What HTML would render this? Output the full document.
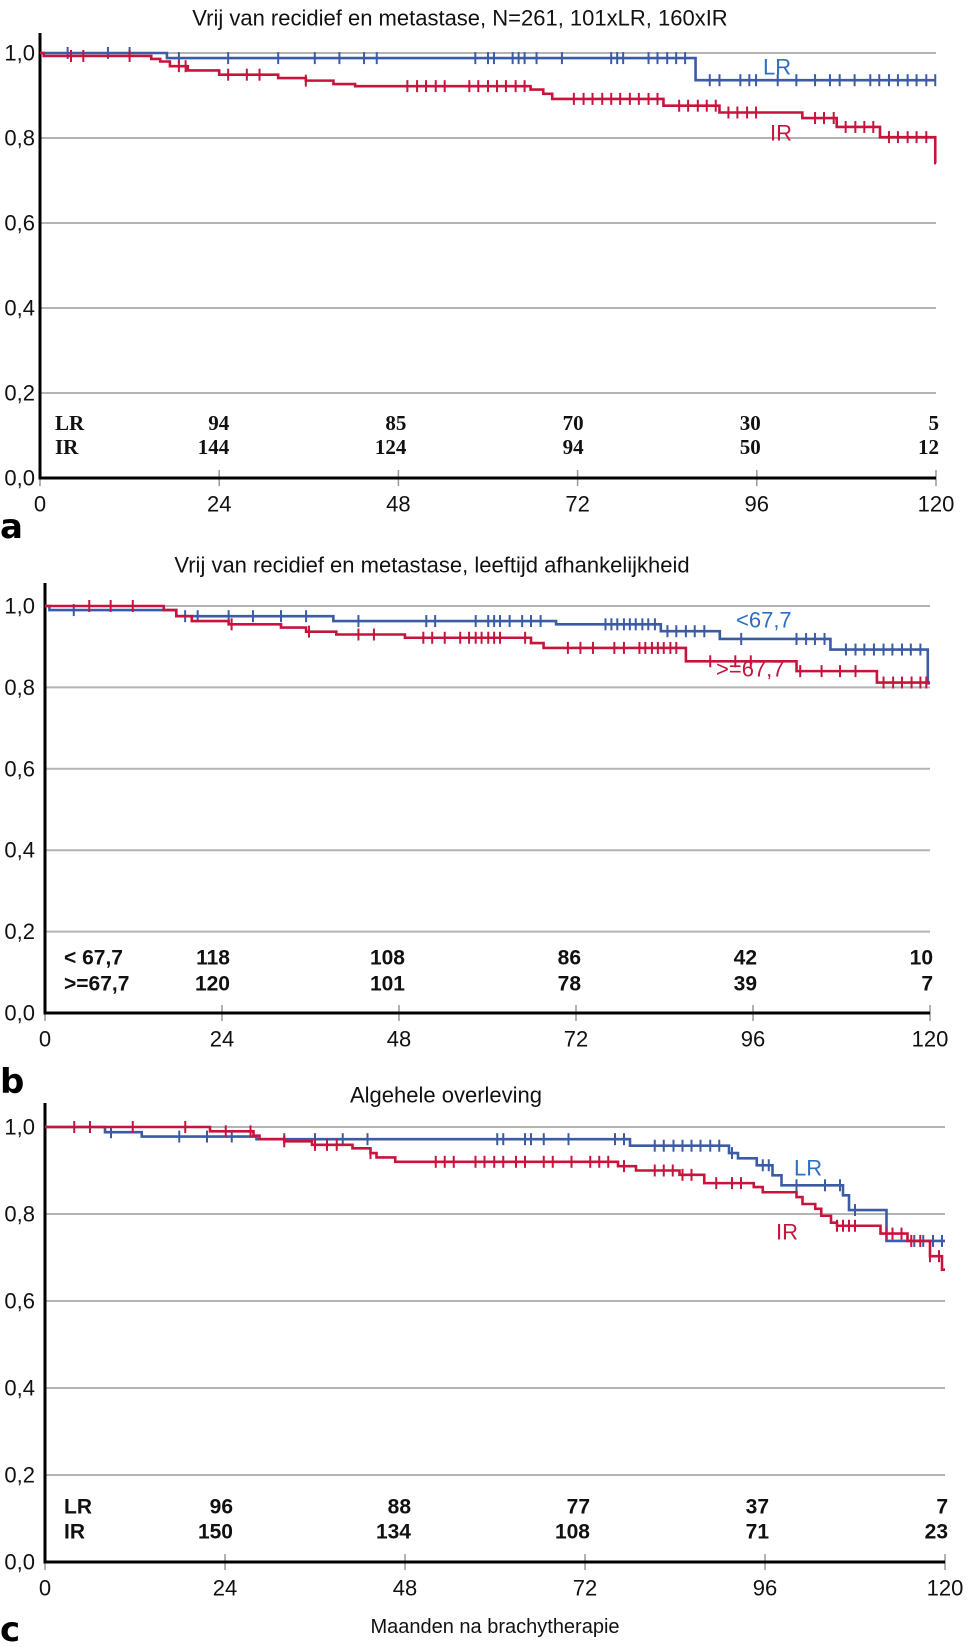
<!DOCTYPE html>
<html><head><meta charset="utf-8">
<style>
html,body{margin:0;padding:0;background:#fff;}
svg{display:block;}
</style></head>
<body>
<svg id="fig" width="969" height="1647" viewBox="0 0 969 1647" xmlns="http://www.w3.org/2000/svg" font-family="Liberation Sans, Arial, sans-serif"></svg>
<script>
// ---------- Panel a data ----------
const aTicks=[0,24,48,72,96,120];
const aYTicks=["0,0","0,2","0,4","0,6","0,8","1,0"];
const aLRT=[17,87.8];
const aLRS=[0.988,0.936];
const aLRC=[3.7,9.1,12,18.6,25.2,31.9,36.8,40.1,43.4,45.1,58.3,60,60.8,63.3,64.1,64.9,66.5,69.9,76.5,77.3,78.1,81.5,82.7,84,85.2,86.4,89.7,91,93.8,95,95.9,98.8,101.3,103.8,105.8,107.1,109.1,111.2,112.4,113.7,114.9,116.2,117.4,118.7,119.9];
const aIRT=[0.5,14.9,16.1,17.4,19.8,24,31.9,35.6,39.3,42.2,65.7,67.4,68.6,83.5,91,102.1,106.7,112.5,119.9];
const aIRS=[0.993,0.986,0.98,0.969,0.959,0.949,0.941,0.935,0.927,0.922,0.914,0.904,0.892,0.876,0.86,0.847,0.826,0.802,0.741];
const aIRC=[4.15,5.8,12,18.6,19.5,25.2,27.7,29.4,35.6,49.2,50.5,51.7,53,54.2,57.5,58.7,60,61.2,62.4,63.7,64.9,71.5,72.8,74,75.3,76.5,77.7,79,80.2,81.5,82.7,85.6,86.8,88.1,89.3,90.5,92.2,93.4,94.7,95.9,103.8,105,106.3,107.9,109.2,110.4,111.6,113.7,114.9,116.2,117.4,118.7];
const aRiskLR=[94,85,70,30,5];
const aRiskIR=[144,124,94,50,12];
// ---------- Panel b data ----------
const bYTicks=["0,0","0,2","0,4","0,6","0,8","1,0"];
const bYoungT=[0.6,17.8,39.1,69.3,83.5,91.5,106.5,119.7];
const bYoungS=[0.99,0.975,0.963,0.955,0.938,0.919,0.893,0.81];
const bYoungC=[3.9,19,20.7,24.9,28.2,32,35.4,42.5,51.7,52.9,58.4,60.1,60.9,61.7,63,64.7,65.9,67.2,76,76.8,77.6,78.5,79.3,80.1,81,81.8,82.7,84.4,85.6,86.9,88.1,89.4,94.4,101.9,103.2,104.4,105.7,108.6,109.9,111.1,112.4,113.7,114.9,116.2,117.4,118.7];
const bOldT=[16.1,17.8,19.9,24.9,32,35.4,39.5,48.8,65.9,67.6,86.9,101.9,112.8];
const bOldS=[0.99,0.975,0.963,0.955,0.947,0.937,0.93,0.922,0.909,0.897,0.864,0.84,0.812];
const bOldC=[6,8.9,11.9,25.3,35.8,42.5,44.6,51.3,52.5,54.2,56.3,57.5,58.4,59.2,60.1,60.9,61.7,65.1,70.9,72.6,74.3,77.2,78.5,80.6,81.4,82.3,83.1,83.9,84.8,85.6,90.2,93.6,95.7,102.4,105.3,107.8,109.9,113.7,115,116.2,117.5,118.7,119.5];
const bRiskYoung=[118,108,86,42,10];
const bRiskOld=[120,101,78,39,7];
// ---------- Panel c data ----------
const cLRT=[8,12.9,28.2,78,91.2,92.4,94.9,97,98.2,106.4,107.2,112.2];
const cLRS=[0.988,0.978,0.972,0.957,0.94,0.928,0.912,0.889,0.866,0.843,0.809,0.738];
const cLRC=[8.8,17.9,21.6,24.9,31.9,36,39.7,43,60.3,61.1,64,64.8,66.5,69.8,76,77.2,81.3,82.5,83.8,85,86.2,87.4,88.7,89.9,91.6,95.7,96.5,100.2,104,106,108,115.9,117.1,118.4,119.6];
const cIRT=[22,27.8,28.6,31.9,35.6,41,43.4,44.2,46.7,76.4,78.8,84.6,87.9,94.5,95.7,100.2,101,102.7,103.5,104.8,105.6,111.4,115,118,119.6];
const cIRS=[0.99,0.98,0.972,0.967,0.959,0.951,0.94,0.93,0.92,0.91,0.9,0.89,0.871,0.862,0.85,0.839,0.823,0.812,0.796,0.78,0.773,0.755,0.738,0.703,0.672];
const cIRC=[3.9,6,11.7,18.7,24.1,27.4,31.9,36,37.6,38.9,43.4,52.1,53.3,54.5,57.4,58.6,59.9,61.1,62.8,64,66.5,67.7,70.2,72.7,73.9,75.1,77.2,81.3,82.5,83.7,85,86.2,89.5,91.6,92.8,105.6,106.4,107.2,108,112.2,113,114.2,115.5,116.7,118,119.2];
const cRiskLR=[96,88,77,37,7];
const cRiskIR=[150,134,108,71,23];

const BLUE="#3b5ba5", RED="#c8143c";
const NS="http://www.w3.org/2000/svg";
const svg=document.getElementById('fig');
function mk(tag,attrs,parent){const e=document.createElementNS(NS,tag);for(const k in attrs)e.setAttribute(k,attrs[k]);(parent||svg).appendChild(e);return e;}
function txt(s,x,y,attrs,parent){const e=mk('text',Object.assign({x:x,y:y,'dominant-baseline':'central'},attrs),parent);e.textContent=s;return e;}

function panel(p){
  const g=mk('g',{});
  
  
  const X=t=>p.x0+(p.x1-p.x0)*t/120, Y=s=>p.y0-(p.y0-p.y1)*s;
  for(let i=1;i<=5;i++){
    const gl=mk('line',{x1:p.x0,x2:p.x1,y1:Y(i*0.2),y2:Y(i*0.2),stroke:'#b4b4b4','stroke-width':2},g);
    
    
  }
  p.yt.forEach((s,i)=>{const t=txt(s,35,Y(i*0.2),{'text-anchor':'end','font-size':22,fill:'#111'},g);
    
    });
  aTicks.forEach(v=>{
    const tk=mk('line',{x1:X(v),x2:X(v),y1:p.y0-8,y2:p.y0+8,stroke:'#999','stroke-width':1.5},g);
    
    
    const t=txt(String(v),X(v),p.y0+26,{'text-anchor':'middle','font-size':22,fill:'#111'},g);
    
    
  });
  const ax=mk('path',{d:`M${p.x0} ${p.top} V${p.y0} H${p.x1}`,fill:'none',stroke:'#000','stroke-width':3},g);
  
  
  p.series.forEach(sr=>{
    let d=`M${X(0)} ${Y(1)}`;
    sr.t.forEach((t,i)=>{d+=` H${X(t)} V${Y(sr.s[i])}`;});
    d+=` H${X(Math.max(120,sr.t[sr.t.length-1]))}`;
    const pth=mk('path',{d:d,fill:'none',stroke:sr.color,'stroke-width':2.6},g);
    
    
    const surv=t=>{let v=1;sr.t.forEach((tt,i)=>{if(tt<=t)v=sr.s[i];});return v;};
    sr.c.forEach(t=>{
      const cm=mk('line',{x1:X(t),x2:X(t),y1:Y(surv(t))-6,y2:Y(surv(t))+6,stroke:sr.color,'stroke-width':2},g);
      
      
    });
    const lb=txt(sr.label,sr.lx,sr.ly,{'font-size':22,fill:sr.lcolor||sr.color},g);
    
    
  });
  p.risk.forEach(r=>{
    const l=txt(r.label,p.rlx,r.y,{'font-size':21,'font-weight':'bold',fill:'#111',style:'font-family:'+p.rfont},g);
    
    
    r.v.forEach((v,i)=>{
      const t=txt(String(v),X(aTicks[i+1])+p.roff[i],r.y,{'text-anchor':'end','font-size':21,'font-weight':'bold',fill:'#111',style:'font-family:'+p.rfont},g);
      
      
    });
  });
  const ti=txt(p.title,p.tx,p.ty,{'text-anchor':'middle','font-size':22,fill:'#111'},g);
  
  
  const pl=txt(p.letter,0,p.ly,{'font-size':34,'font-weight':'bold',fill:'#000',style:'font-family:"DejaVu Sans",sans-serif'},g);
  
  
}

panel({name:'panel-a',x0:40,x1:936,y1:53,y0:478,top:33,yt:aYTicks,title:'Vrij van recidief en metastase, N=261, 101xLR, 160xIR',tx:460,ty:18,letter:'a',ly:527,
  rlx:55,rfont:'"Liberation Serif",serif',roff:[10,8,6,4,3],
  risk:[{label:'LR',y:423,v:aRiskLR},{label:'IR',y:447,v:aRiskIR}],
  series:[{name:'lr',t:aLRT,s:aLRS,c:aLRC,color:BLUE,label:'LR',lx:763,ly:67,lcolor:'#2f6fc0'},
          {name:'ir',t:aIRT,s:aIRS,c:aIRC,color:RED,label:'IR',lx:770,ly:133}]});
panel({name:'panel-b',x0:45,x1:930,y1:606,y0:1013,top:583,yt:bYTicks,title:'Vrij van recidief en metastase, leeftijd afhankelijkheid',tx:432,ty:565,letter:'b',ly:1082,
  rlx:64,rfont:'"Liberation Sans",sans-serif',roff:[8,6,5,4,3],
  risk:[{label:'< 67,7',y:958,v:bRiskYoung},{label:'>=67,7',y:984,v:bRiskOld}],
  series:[{name:'young',t:bYoungT,s:bYoungS,c:bYoungC,color:BLUE,label:'<67,7',lx:736,ly:620,lcolor:'#2f6fc0'},
          {name:'old',t:bOldT,s:bOldS,c:bOldC,color:RED,label:'>=67,7',lx:716,ly:669}]});
panel({name:'panel-c',x0:45,x1:945,y1:1127,y0:1562,top:1103,yt:bYTicks,title:'Algehele overleving',tx:446,ty:1095,letter:'c',ly:1630,
  rlx:64,rfont:'"Liberation Sans",sans-serif',roff:[8,6,5,4,3],
  risk:[{label:'LR',y:1507,v:cRiskLR},{label:'IR',y:1532,v:cRiskIR}],
  series:[{name:'lr',t:cLRT,s:cLRS,c:cLRC,color:BLUE,label:'LR',lx:794,ly:1168,lcolor:'#2f6fc0'},
          {name:'ir',t:cIRT,s:cIRS,c:cIRC,color:RED,label:'IR',lx:776,ly:1232}]});
const xt=txt('Maanden na brachytherapie',495,1627,{'text-anchor':'middle','font-size':20,fill:'#111'});


</script>
</body></html>
